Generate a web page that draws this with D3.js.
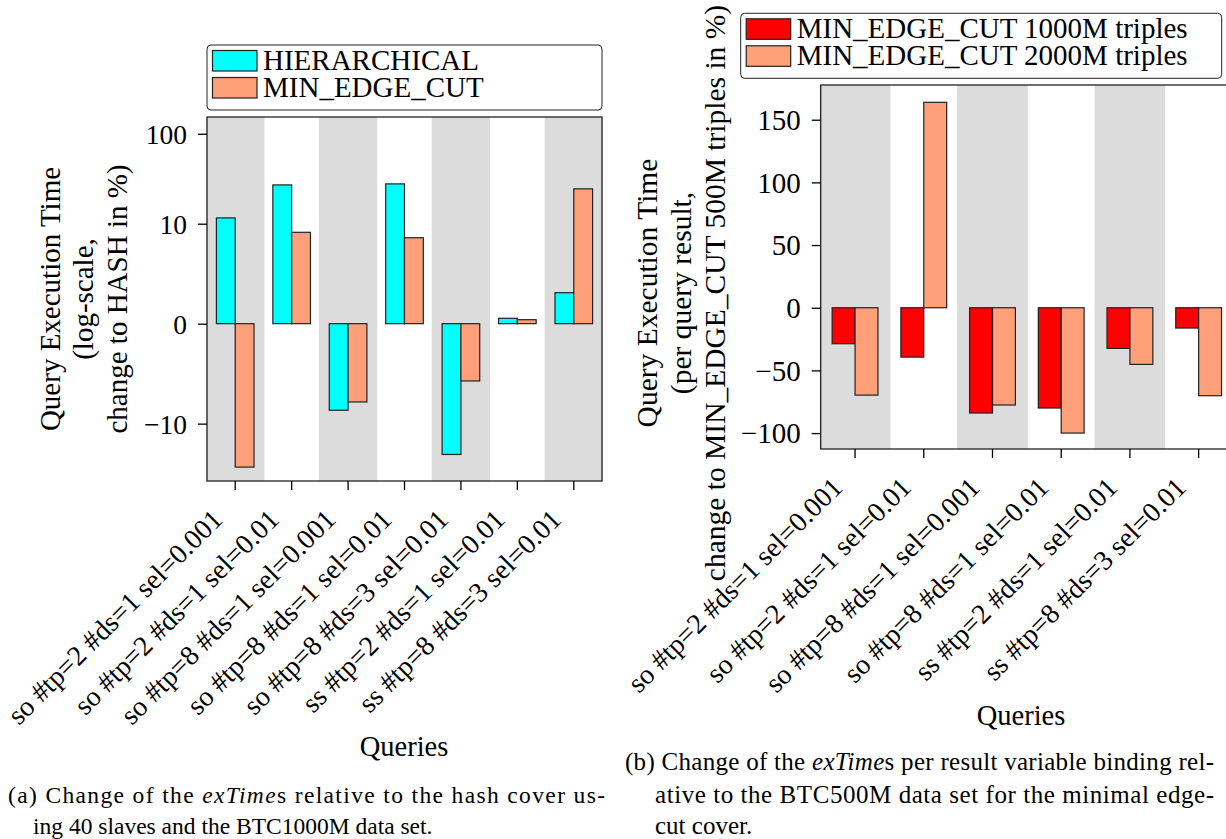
<!DOCTYPE html>
<html>
<head>
<meta charset="utf-8">
<script src="https://cdn.jsdelivr.net/npm/d3@7/dist/d3.min.js"></script>
</head>
<body style="margin:0;background:#fff">
<svg id="fig" width="1226" height="839" style="font-family:'Liberation Serif', serif"></svg>
<script>
(function(){

        // (a) change relative to hash cover, 40 slaves, BTC1000M
        const leftQueries = [
            "so #tp=2 #ds=1 sel=0.001", "so #tp=2 #ds=1 sel=0.01", "so #tp=8 #ds=1 sel=0.001",
            "so #tp=8 #ds=1 sel=0.01", "so #tp=8 #ds=3 sel=0.01", "ss #tp=2 #ds=1 sel=0.01",
            "ss #tp=8 #ds=3 sel=0.01"
        ];
        const hierarchical = [11.6, 27.0, -8.66, 27.7, -22.0, 0.54, 3.1];
        const minEdgeCut = [-30.4, 9.14, -7.83, 8.6, -5.73, 0.4, 24.4];
        const leftTicks = [-10, 0, 10, 100];
        const leftSeries = ["HIERARCHICAL", "MIN_EDGE_CUT"];

        // (b) change per result relative to MIN_EDGE_CUT 500M
        const rightQueries = [
            "so #tp=2 #ds=1 sel=0.001", "so #tp=2 #ds=1 sel=0.01", "so #tp=8 #ds=1 sel=0.001",
            "so #tp=8 #ds=1 sel=0.01", "ss #tp=2 #ds=1 sel=0.01", "ss #tp=8 #ds=3 sel=0.01"
        ];
        const cut1000 = [-28.7, -39.4, -84.0, -80.0, -32.4, -16.2];
        const cut2000 = [-69.7, 163.9, -77.6, -100, -45.2, -70.2];
        const rightTicks = [-100, -50, 0, 50, 100, 150];
        const rightSeries = ["MIN_EDGE_CUT 1000M triples", "MIN_EDGE_CUT 2000M triples"];

        const FONT = "'Liberation Serif', 'Times New Roman', serif";
        const svg = d3.select("#fig");
        const fmt = d3.format("d");

        // matplotlib-like symlog (linear inside +-10, log10 outside)
        const linthresh = 10, linscale = 1 / (1 - 1 / 10);
        function symlog(v) {
            const a = Math.abs(v);
            if (a <= linthresh) return v * linscale;
            return Math.sign(v) * linthresh * (linscale + Math.log10(a / linthresh));
        }

        function label(sel, size) {
            return sel.style("font-family", FONT).style("font-size", size + "px").attr("fill", "#000");
        }

        function panel(opt) {
            const g = svg.append("g");
            const x = d3.scaleBand().domain(opt.cats).range([opt.left, opt.right]).padding(0);
            const step = x.step();
            const yPos = v => opt.yLin(opt.tf(v));
            const zero = yPos(0);

            // alternating background bands
            g.selectAll(".band")
                .data(opt.cats.filter((d, i) => i % 2 === 0))
                .enter().append("rect")
                .attr("x", d => x(d) - 1)
                .attr("width", step + 2)
                .attr("y", opt.top)
                .attr("height", opt.bottom - opt.top)
                .attr("fill", "#dcdcdc");

            // bars
            opt.series.forEach((vals, s) => {
                g.selectAll(".bar" + s)
                    .data(vals)
                    .enter().append("rect")
                    .attr("x", (d, i) => x(opt.cats[i]) + step / 2 + (s - 1) * step / 3)
                    .attr("width", step / 3)
                    .attr("y", d => Math.min(yPos(d), zero))
                    .attr("height", d => Math.abs(yPos(d) - zero))
                    .attr("fill", opt.colors[s])
                    .attr("stroke", "#222")
                    .attr("stroke-width", 1.2);
            });

            // frame
            g.append("rect")
                .attr("x", opt.left).attr("y", opt.top)
                .attr("width", opt.right - opt.left).attr("height", opt.bottom - opt.top)
                .attr("fill", "none").attr("stroke", "#222").attr("stroke-width", 1.3);

            // y axis
            const yAxis = d3.axisLeft(opt.yLin)
                .tickValues(opt.ticks.map(opt.tf))
                .tickFormat((d, i) => fmt(opt.ticks[i]))
                .tickSize(9).tickSizeOuter(0).tickPadding(11);
            const ya = g.append("g").attr("transform", `translate(${opt.left},0)`).call(yAxis);
            ya.select(".domain").remove();
            ya.selectAll("line").attr("stroke", "#000").attr("stroke-width", 1.3);
            label(ya.selectAll("text"), opt.tickSize).attr("dy", "0.34em");

            // x axis
            const xAxis = d3.axisBottom(x).tickSize(9).tickSizeOuter(0).tickFormat("");
            const xa = g.append("g").attr("transform", `translate(0,${opt.bottom})`).call(xAxis);
            xa.select(".domain").remove();
            xa.selectAll("line").attr("stroke", "#000").attr("stroke-width", 1.3);

            label(g.selectAll(".xlab")
                .data(opt.cats)
                .enter().append("text")
                .attr("transform", d => `translate(${x(d) + step / 2 - 11},${opt.bottom + 40}) rotate(-45)`)
                .attr("text-anchor", "end")
                .text(d => d), 28);

            label(g.append("text")
                .attr("x", opt.queriesX).attr("y", opt.queriesY)
                .attr("text-anchor", "middle")
                .text("Queries"), 28.5);

            // y label lines
            opt.ylabel.forEach((line, i) => {
                label(g.append("text")
                    .attr("transform", `translate(${opt.ylabelX[i]},${opt.ylabelY}) rotate(-90)`)
                    .attr("text-anchor", "middle")
                    .text(line), opt.ylabelSize);
            });

            // legend
            const L = opt.legend;
            g.append("rect")
                .attr("x", L.x).attr("y", L.y).attr("width", L.w).attr("height", L.h)
                .attr("rx", 4).attr("fill", "#fff").attr("stroke", "#222").attr("stroke-width", 1);
            opt.names.forEach((name, i) => {
                g.append("rect")
                    .attr("x", L.x + 5.5).attr("y", L.y + 5.5 + i * 27)
                    .attr("width", 44.5).attr("height", 20.5)
                    .attr("fill", opt.colors[i]).attr("stroke", "#222").attr("stroke-width", 1.2);
                label(g.append("text")
                    .attr("x", L.x + 56).attr("y", L.y + 25 + i * 27)
                    .text(name), 29);
            });
        }

        panel({
            cats: leftQueries,
            series: [hierarchical, minEdgeCut],
            names: leftSeries,
            colors: ["#00ffff", "#ffa07a"],
            left: 207, right: 602, top: 117, bottom: 481,
            tf: symlog,
            yLin: d3.scaleLinear().domain([symlog(-43.4), symlog(153.5)]).range([481, 117]),
            ticks: leftTicks, tickSize: 27.5,
            queriesX: 404, queriesY: 756,
            ylabel: ["Query Execution Time", "(log-scale,", "change to HASH in %)"],
            ylabelX: [60, 93, 127], ylabelY: 299, ylabelSize: 29,
            legend: { x: 207, y: 45, w: 395, h: 65 }
        });

        panel({
            cats: rightQueries,
            series: [cut1000, cut2000],
            names: rightSeries,
            colors: ["#ff0000", "#ffa07a"],
            left: 820.7, right: 1233, top: 85, bottom: 449,
            tf: v => v,
            yLin: d3.scaleLinear().domain([-112.7, 177.7]).range([449, 85]),
            ticks: rightTicks, tickSize: 29,
            queriesX: 1021, queriesY: 725,
            ylabel: ["Query Execution Time", "(per query result,", "change to MIN_EDGE_CUT 500M triples in %)"],
            ylabelX: [657, 691, 725], ylabelY: 293, ylabelSize: 29.5,
            legend: { x: 740.7, y: 13.3, w: 481, h: 65 }
        });

        // captions
        function caption(x, y, parts, size, len) {
            const t = label(svg.append("text").attr("x", x).attr("y", y), size);
            parts.forEach(p => {
                t.append("tspan").style("font-style", p[1] ? "italic" : "normal").text(p[0]);
            });
            if (len) t.attr("textLength", len).attr("lengthAdjust", "spacing");
        }
        caption(8, 803, [["(a) Change of the ", 0], ["exTime", 1], ["s relative to the hash cover us-", 0]], 23.5, 597);
        caption(33, 834, [["ing 40 slaves and the BTC1000M data set.", 0]], 23.5);
        caption(625, 770, [["(b) Change of the ", 0], ["exTime", 1], ["s per result variable binding rel-", 0]], 25, 589);
        caption(655, 803, [["ative to the BTC500M data set for the minimal edge-", 0]], 25, 559);
        caption(655, 834, [["cut cover.", 0]], 25);

})();
</script>
</body>
</html>
